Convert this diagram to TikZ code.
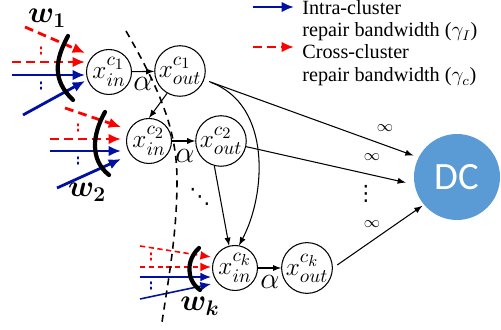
\documentclass[tikz,border=0pt]{standalone}
\usepackage{fontspec}
\usepackage{amsmath}
\setmainfont{Liberation Serif}
\newfontfamily\dcfont{Carlito}
\newfontfamily\dotfont{DejaVu Sans}
\DeclareMathSizes{14}{14}{11}{9}
\usetikzlibrary{arrows.meta}
\definecolor{intrablue}{RGB}{0,16,160}
\definecolor{dcblue}{RGB}{91,155,213}
\begin{document}
\begin{tikzpicture}[x=0.02cm, y=-0.02cm,
		vertex/.style={draw, circle, line width=0.6pt, minimum size=0.9cm, inner sep=0pt, font=\fontsize{14}{16}\selectfont},
		edge/.style={line width=0.6pt, ->, >=latex},
		intra/.style={draw=intrablue, line width=1.6pt, -{Latex[length=7pt,width=6pt]}},
		cross/.style={draw=red, line width=1.6pt, dashed, dash pattern=on 5pt off 3pt, -{Latex[length=7pt,width=6pt]}},
		intrathin/.style={draw=intrablue, line width=0.9pt, -{Latex[length=6pt,width=5pt]}},
		crossthin/.style={draw=red, line width=0.9pt, dash pattern=on 3pt off 2pt, -{Latex[length=6pt,width=5pt]}},
		more/.style={line width=1pt, dotted, line cap=round},
		cut/.style={line width=2.4pt, line cap=round},
		weight/.style={font=\fontsize{18}{20}\selectfont},
		factor/.style={font=\fontsize{18}{20}\selectfont},
		inf/.style={font=\small},
		dots/.style={inner sep=0pt, font=\dotfont\fontsize{12}{12}\selectfont},
		legend/.style={anchor=base west, inner sep=0pt, font=\fontsize{11.5}{12}\selectfont}]
		\useasboundingbox (0,0) rectangle (501,330);
		% nodes
		\node[vertex] (in1) at (109,72) {$x_{in}^{c_1}$};
		\node[vertex] (out1) at (180,71) {$x_{out}^{c_1}$};
		\node[vertex] (in2) at (149,141) {$x_{in}^{c_2}$};
		\node[vertex] (out2) at (221,141) {$x_{out}^{c_2}$};
		\node[vertex] (ink) at (235,268) {$x_{in}^{c_k}$};
		\node[vertex] (outk) at (307,268) {$x_{out}^{c_k}$};
		\node[circle, fill=dcblue, minimum size=1.72cm, text=white, font=\dcfont\fontsize{22}{22}\selectfont] (dc) at (457,177) {DC};
		% inner edges
		\draw[edge] (in1) -- (out1);
		\draw[edge] (in2) -- (out2);
		\draw[edge] (ink) -- (outk);
		\node[factor] (a1) at (143,84) {$\alpha$};
		\node[factor] (a2) at (185,156) {$\alpha$};
		\node[factor] (ak) at (270,282) {$\alpha$};
		\draw[edge] (out1.240) -- (in2.north);
		\draw[edge] (out2.255) -- (ink.105);
		\draw[edge, shorten <=4pt] (out1) .. controls (272,105) and (266,195) .. (ink.80);
		\draw[edge, shorten <=3pt, shorten >=3pt] (out1) -- (dc.153);
		\draw[edge, shorten >=5pt] (out2) -- (dc.190);
		\draw[edge, shorten <=3pt, shorten >=1pt] (outk.east) -- (dc.220);
		\node[inf] (i1) at (385,128) {$\infty$};
		\node[inf] (i2) at (372,157) {$\infty$};
		\node[inf] (ik) at (372,224) {$\infty$};
		\node[dots] (vd) at (366,194) {⋮};
		\node[dots] (dd) at (200,197) {⋱};
		% cluster 1
		\draw[cross] (25,27) -- (85,53);
		\draw[red, more] (41,47) -- (41,57);
		\draw[cross] (12,62) -- (85,62);
		\draw[intra] (12,75) -- (85,75);
		\draw[intrablue, more] (41,82) -- (41,90);
		\draw[intra] (23,115) -- (85,81);
		\draw[cut] (68,36) .. controls (55,60) and (52,80) .. (73,100);
		\node[weight] (w1) at (47,18) {$\boldsymbol{w_1}$};
		% cluster 2
		\draw[cross] (65,108) -- (121,127);
		\draw[red, more] (78,124) -- (78,133);
		\draw[cross] (50,139) -- (121,139);
		\draw[intra] (50,151) -- (121,151);
		\draw[intrablue, more] (78,157) -- (78,166);
		\draw[intra] (57,188) -- (121,159);
		\draw[cut] (105,112) .. controls (92,135) and (90,160) .. (109,175);
		\node[weight] (w2) at (87,192) {$\boldsymbol{w_2}$};
		% cluster k
		\draw[crossthin] (140,246) -- (211,257);
		\draw[red, more] (151,253) -- (151,263);
		\draw[crossthin] (140,267) -- (211,267);
		\draw[intrathin] (140,277) -- (211,277);
		\draw[intrablue, more] (151,282) -- (151,292);
		\draw[intrathin] (140,299) -- (211,284);
		\draw[cut] (199,248) .. controls (186,260) and (186,280) .. (200,290);
		\node[weight] (wk) at (200,306) {$\boldsymbol{w_k}$};
		% cut line
		\draw[line width=0.9pt, dashed, dash pattern=on 4pt off 3pt] (126,31) .. controls (160,90) and (177,130) .. (177,180) .. controls (177,230) and (170,270) .. (162,322);
		% legend
		\draw[intra] (253,7) -- (294,7);
		\draw[cross] (253,47) -- (294,47);
		\node[legend] (l1) at (302,15) {Intra-cluster};
		\node[legend] (l2) at (302,37) {repair bandwidth ($\gamma_I$)};
		\node[legend] (l3) at (302,59) {Cross-cluster};
		\node[legend] (l4) at (302,82) {repair bandwidth ($\gamma_c$)};
	\end{tikzpicture}
\end{document}
